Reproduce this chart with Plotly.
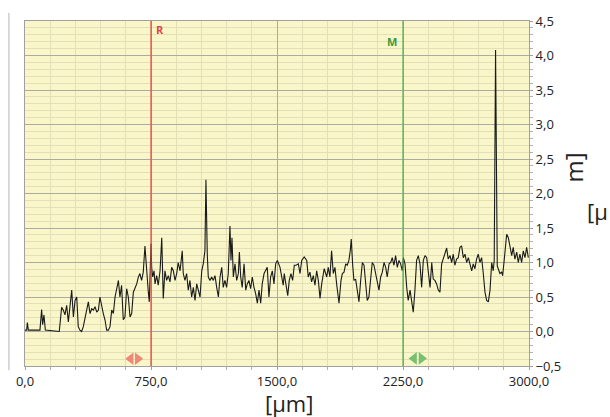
import plotly.graph_objects as go

# Profile data (position in µm, height in µm)
pos = [0, 10, 14, 20, 89, 99, 105, 113, 121, 204, 218, 228, 238, 248, 258, 268, 278, 288, 298, 308,
       317, 327, 337, 347, 357, 367, 377, 387, 397, 407, 417, 427, 437, 446, 456, 466, 476, 486, 496, 506,
       516, 526, 536, 546, 556, 565, 575, 585, 595, 605, 615, 625, 635, 645, 655, 665, 675, 684, 694, 704,
       714, 724, 734, 740, 750,
       754, 760, 768, 774, 784, 793, 804, 814, 823, 833, 843, 853, 863, 873, 883, 893, 903, 912, 923, 936,
       942, 952, 962, 972, 982, 992, 1002, 1012, 1022, 1031, 1042, 1052, 1061, 1071, 1077, 1085, 1091, 1101, 1111, 1121,
       1131, 1141, 1151, 1161, 1171, 1180, 1190, 1200, 1210, 1220, 1226, 1232, 1240, 1250, 1260, 1270, 1276, 1284, 1293, 1304,
       1314, 1323, 1333, 1343, 1353, 1363, 1373, 1383, 1393, 1403, 1412, 1423, 1433, 1442, 1452, 1462, 1472, 1482, 1492, 1502,
       1518, 1528, 1537, 1543, 1553, 1564, 1573, 1583, 1593, 1603, 1613, 1627, 1637, 1647, 1662, 1677, 1686, 1696, 1706, 1716,
       1726, 1736, 1746, 1756, 1766, 1781, 1796, 1805, 1815, 1825, 1835, 1845, 1855, 1869, 1881, 1889, 1899, 1909, 1918, 1928,
       1936, 1942, 1950, 1958, 1968, 1978, 1988, 1998, 2008, 2018, 2028, 2037, 2047, 2058, 2067, 2077, 2087, 2097, 2107, 2117,
       2127, 2137, 2147, 2156, 2167, 2177, 2186, 2196, 2206, 2216, 2226, 2236, 2246,
       2252, 2262, 2272, 2281, 2292, 2302, 2311, 2321, 2331, 2341, 2351, 2361, 2371, 2381, 2391, 2400, 2411, 2421, 2430, 2440,
       2450, 2460, 2470, 2480, 2490, 2500, 2510, 2519, 2530, 2540, 2549, 2559, 2569, 2579, 2589, 2599, 2609, 2619, 2629, 2639,
       2649, 2659, 2668, 2678, 2688, 2698, 2708, 2718, 2728, 2738, 2748, 2758, 2768, 2778, 2787, 2793, 2801, 2811, 2817, 2827,
       2837, 2843, 2851, 2859, 2867, 2877, 2887, 2897, 2906, 2916, 2927, 2936, 2946, 2956, 2966, 2976, 2986, 2996]

height = [0.02, 0.02, 0.13, 0.02, 0.02, 0.32, 0.10, 0.24, 0.02, 0.00, 0.35, 0.31, 0.24, 0.38, 0.14, 0.43, 0.60, 0.21, 0.45, 0.50,
          0.07, 0.02, 0.00, 0.07, 0.21, 0.31, 0.43, 0.26, 0.33, 0.31, 0.36, 0.28, 0.31, 0.50, 0.36, 0.26, 0.17, 0.02, 0.02, 0.07,
          0.31, 0.26, 0.50, 0.60, 0.74, 0.50, 0.67, 0.17, 0.21, 0.62, 0.50, 0.21, 0.26, 0.57, 0.62, 0.69, 0.79, 0.84, 0.74, 0.86,
          1.24, 0.84, 0.57, 0.43, 1.27,
          0.93, 0.79, 0.88, 0.69, 0.81, 0.67, 0.88, 1.36, 0.48, 0.88, 0.74, 0.81, 0.72, 0.93, 0.88, 0.74, 0.84, 1.00, 0.88, 1.17,
          0.84, 0.74, 0.84, 0.60, 0.74, 0.50, 0.64, 0.45, 0.69, 0.62, 0.50, 0.88, 0.98, 1.17, 2.20, 1.12, 0.79, 0.74, 0.79, 0.74,
          0.81, 0.64, 0.50, 0.79, 0.93, 0.64, 0.74, 0.64, 0.84, 1.53, 1.03, 1.36, 0.79, 0.98, 0.74, 0.84, 1.15, 0.79, 0.64, 0.98,
          0.60, 0.69, 0.74, 0.62, 0.79, 0.64, 0.55, 0.41, 0.60, 0.41, 0.69, 0.84, 0.88, 0.93, 0.50, 0.79, 0.88, 0.69, 0.98, 1.03,
          0.93, 0.79, 0.67, 0.84, 0.69, 0.52, 0.74, 0.84, 0.74, 0.96, 0.96, 0.98, 0.84, 1.03, 1.08, 1.03, 0.79, 0.86, 0.72, 0.81,
          0.67, 0.88, 0.74, 0.48, 0.69, 0.91, 0.79, 0.93, 0.79, 1.17, 0.84, 0.93, 0.69, 0.41, 0.74, 0.84, 0.86, 0.98, 0.96, 1.03,
          1.17, 1.34, 0.98, 0.74, 0.76, 0.62, 0.43, 0.74, 1.00, 0.96, 0.74, 0.45, 0.50, 0.79, 1.00, 0.96, 0.84, 0.74, 0.60, 0.79,
          0.86, 1.00, 0.93, 0.79, 0.98, 1.00, 1.07, 0.96, 1.10, 0.93, 1.03, 0.98, 0.88,
          1.07, 0.98, 0.64, 0.45, 0.60, 0.41, 0.28, 0.60, 1.03, 1.10, 0.98, 0.64, 1.03, 1.10, 1.07, 0.88, 0.64, 1.00, 0.76, 0.74,
          0.69, 0.60, 0.57, 0.98, 1.07, 1.15, 1.21, 1.05, 1.10, 1.00, 1.12, 0.96, 1.05, 1.07, 1.22, 1.24, 1.07, 1.12, 1.00, 1.07,
          0.96, 0.88, 0.98, 0.91, 1.05, 1.12, 1.00, 1.07, 0.84, 0.57, 0.45, 0.43, 0.60, 1.00, 0.88, 1.03, 4.08, 0.95, 0.91, 0.84,
          0.86, 0.81, 1.00, 1.22, 1.41, 1.36, 1.22, 1.10, 1.22, 1.05, 1.15, 1.00, 1.12, 1.00, 1.17, 1.07, 1.22, 1.07]

x_ticks = [0, 750, 1500, 2250, 3000]
y_ticks = [-0.5, 0.0, 0.5, 1.0, 1.5, 2.0, 2.5, 3.0, 3.5, 4.0, 4.5]
cursor_r = 750
cursor_m = 2250

fig = go.Figure()
fig.add_trace(go.Scatter(x=pos, y=height, mode="lines",
                         line=dict(color="#1a1a1a", width=1.1), hoverinfo="skip", showlegend=False))

# cursor handle arrows
fig.add_trace(go.Scatter(x=[629, 671], y=[-0.395, -0.395], mode="markers",
                         marker=dict(symbol=["triangle-left", "triangle-right"], size=11, color="#F08878"),
                         showlegend=False, hoverinfo="skip"))
fig.add_trace(go.Scatter(x=[2316, 2360], y=[-0.39, -0.39], mode="markers",
                         marker=dict(symbol=["triangle-left", "triangle-right"], size=11, color="#78C070"),
                         showlegend=False, hoverinfo="skip"))

fig.add_shape(type="line", x0=cursor_r, x1=cursor_r, y0=-0.5, y1=4.5, xref="x", yref="y",
              line=dict(color="#E04848", width=1.2))
fig.add_shape(type="line", x0=cursor_m, x1=cursor_m, y0=-0.5, y1=4.5, xref="x", yref="y",
              line=dict(color="#5AAA5A", width=1.2))
# left decorative frame line
fig.add_shape(type="line", x0=-0.032, x1=-0.032, y0=-0.012, y1=1.023, xref="paper", yref="paper",
              line=dict(color="#CFCFCF", width=1.5))

fig.add_annotation(x=cursor_r, y=4.38, xref="x", yref="y", text="<b>R</b>", showarrow=False,
                   xanchor="left", xshift=3, font=dict(color="#E04848", size=11, family="Open Sans"))
fig.add_annotation(x=cursor_m, y=4.2, xref="x", yref="y", text="<b>M</b>", showarrow=False,
                   xanchor="right", xshift=-4, font=dict(color="#3E9A3E", size=11, family="Open Sans"))

fig.add_annotation(x=0.523, y=-0.107, xref="paper", yref="paper", text="[μm]", showarrow=False,
                   xanchor="center", yanchor="middle", borderpad=0,
                   font=dict(size=22, color="#222", family="Open Sans"))
fig.add_annotation(x=1.089, y=0.575, xref="paper", yref="paper", text="m]", textangle=-90, showarrow=False,
                   xanchor="center", yanchor="middle", borderpad=0,
                   font=dict(size=24, color="#222", family="Open Sans"))
fig.add_annotation(x=1.158, y=0.448, xref="paper", yref="paper", text="[μ", showarrow=False,
                   xanchor="right", yanchor="middle", borderpad=0,
                   font=dict(size=22, color="#222", family="Open Sans"))

axis_common = dict(showline=True, linecolor="#A0A0A0", linewidth=1, mirror=True, zeroline=False,
                   gridcolor="#ABABA0", gridwidth=1, ticks="outside", ticklen=3, tickcolor="#A0A0A0",
                   tickfont=dict(size=13, color="#222", family="Open Sans"))

fig.update_xaxes(range=[0, 3000], tickvals=x_ticks, tickformat=".1f",
                 minor=dict(dtick=150, showgrid=True, gridcolor="#E2E0B4", ticks="outside", ticklen=3,
                            tickcolor="#B0B0B0"), **axis_common)
fig.update_yaxes(range=[-0.5, 4.5], tickvals=y_ticks, tickformat=".1f", side="right",
                 minor=dict(dtick=0.1, showgrid=True, gridcolor="#E2E0B4", ticks="outside", ticklen=3,
                            tickcolor="#B0B0B0"), **axis_common)

fig.update_layout(width=610, height=417, margin=dict(l=25, r=81, t=18, b=51),
                  paper_bgcolor="white", plot_bgcolor="#F9F7C9", separators=",.",
                  showlegend=False)

fig.write_html("out.html")
